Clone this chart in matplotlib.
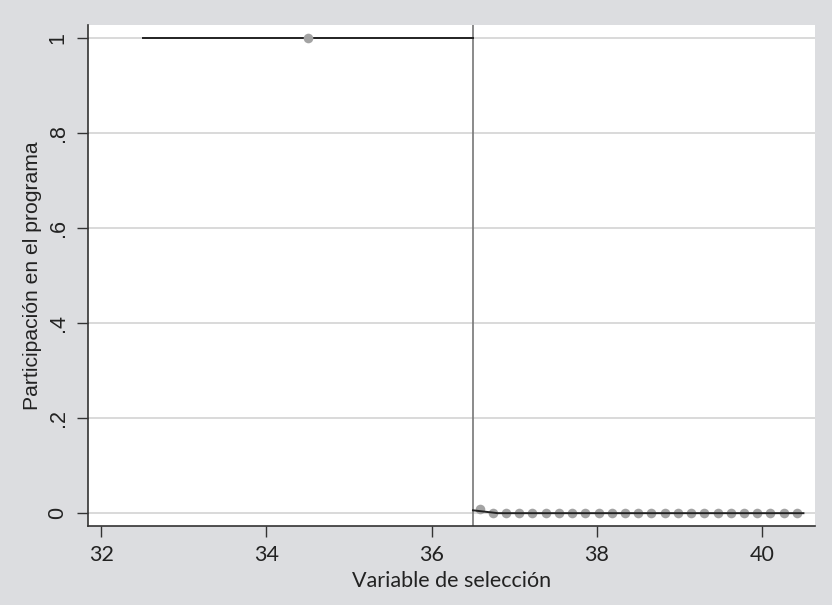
import numpy as np
import matplotlib.pyplot as plt

# data
x_left = [34.5]
y_left = [1.0]
x_right = [36.58 + 0.16 * i for i in range(25)]
y_right = [0.008] + [0.0] * 24
fit_left_x = [32.5, 36.5]
fit_left_y = [1.0, 1.0]
fit_right_x = [36.5, 36.8, 40.5]
fit_right_y = [0.006, 0.0, 0.0]
cutoff = 36.5

xticks = [32, 34, 36, 38, 40]
yticks = [0, 0.2, 0.4, 0.6, 0.8, 1]
ylabels = ['0', '.2', '.4', '.6', '.8', '1']

plt.rcParams['font.family'] = ['Lato', 'DejaVu Sans']
bg = '#dcdde0'
txt = '#222222'

fig = plt.figure(figsize=(8.32, 6.05), dpi=100, facecolor=bg)
ax = fig.add_axes([88/832, 1-526/605, (815-88)/832, (526-25)/605])
ax.set_facecolor('white')

ax.axvline(cutoff, color='#777777', lw=1.2, zorder=2)
ax.plot(fit_left_x, fit_left_y, color='#222222', lw=1.4, zorder=3)
ax.plot(fit_right_x, fit_right_y, color='#222222', lw=1.4, zorder=3)
ax.scatter(x_left, y_left, s=48, color='#a3a3a3', zorder=4, linewidths=0)
ax.scatter(x_right, y_right, s=48, color='#a3a3a3', zorder=2.5, linewidths=0)

ax.set_xlim(31.84, 40.64)
ax.set_ylim(-0.027, 1.027)
ax.set_xticks(xticks)
ax.set_yticks(yticks)
ax.set_yticklabels(ylabels, rotation=90, va='center',
                   family=['Liberation Sans', 'DejaVu Sans'], fontsize=15.5)
ax.yaxis.grid(True, color='#d3d3d3', lw=1.2)
ax.set_axisbelow(True)

for s in ['top', 'right']:
    ax.spines[s].set_visible(False)
for s in ['left', 'bottom']:
    ax.spines[s].set_color('#333333')
    ax.spines[s].set_linewidth(1.2)
ax.tick_params(direction='out', length=8, width=1, color='#333333',
               labelcolor=txt, pad=6)
ax.tick_params(axis='x', labelsize=15.5)

ax.set_xlabel('Variable de selección', fontsize=15.5, color=txt, labelpad=4)
ax.set_ylabel('Participación en el programa', fontsize=15.2, color=txt,
              labelpad=4, family=['Liberation Sans', 'DejaVu Sans'])

fig.savefig('out.png', dpi=100, facecolor=bg)
